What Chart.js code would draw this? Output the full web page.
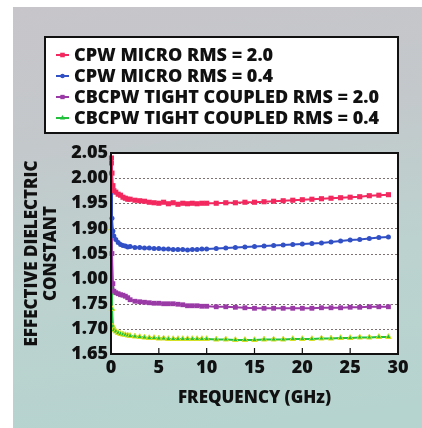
<!DOCTYPE html>
<html>
<head>
<meta charset="utf-8">
<script src="https://cdn.jsdelivr.net/npm/chart.js@4"></script>
<style>
  html, body { margin: 0; padding: 0; background: #fff; }
  #bg {
    position: absolute; left: 13px; top: 7px; width: 409px; height: 421px;
    background: linear-gradient(172deg, #c7c5ca 0%, #c3c8cb 30%, #bcd2cf 60%, #b5d4cf 100%);
  }
  #wrap { position: absolute; left: 0; top: 0; width: 422px; height: 428px; }
</style>
</head>
<body>
<div id="bg"></div>
<div id="wrap"><canvas id="chart" width="422" height="428"></canvas></div>
<script>
// frequency (GHz)
const freq = [0.05, 0.1, 0.2, 0.3, 0.5, 0.75, 1, 1.25, 1.5, 1.75, 2, 2.5, 3, 3.5, 4, 4.5, 5, 5.5, 6, 6.5, 7, 7.5, 8, 8.5, 9, 9.5, 10,
  11, 12, 13, 14, 15, 16, 17, 18, 19, 20, 21, 22, 23, 24, 25, 26, 27, 28, 29];

const cpwMicro20 = [2.04, 2.01, 1.985, 1.975, 1.972, 1.968, 1.966, 1.962, 1.960, 1.958, 1.958, 1.956, 1.955, 1.954, 1.952, 1.951, 1.950, 1.952, 1.949, 1.951, 1.948, 1.950, 1.949, 1.950, 1.949, 1.950, 1.950,
  1.950, 1.951, 1.951, 1.952, 1.952, 1.953, 1.954, 1.955, 1.956, 1.957, 1.958, 1.959, 1.960, 1.961, 1.962, 1.963, 1.965, 1.966, 1.967];

const cpwMicro04 = [2.01, 1.92, 1.895, 1.885, 1.878, 1.872, 1.868, 1.866, 1.865, 1.863, 1.864, 1.862, 1.862, 1.861, 1.861, 1.860, 1.860, 1.859, 1.859, 1.858, 1.858, 1.858, 1.857, 1.858, 1.858, 1.859, 1.859,
  1.860, 1.861, 1.862, 1.863, 1.864, 1.865, 1.866, 1.867, 1.868, 1.869, 1.870, 1.871, 1.873, 1.875, 1.877, 1.878, 1.880, 1.882, 1.883];

const cbcpw20 = [2.03, 1.85, 1.79, 1.775, 1.772, 1.770, 1.768, 1.767, 1.765, 1.762, 1.758, 1.755, 1.754, 1.753, 1.752, 1.751, 1.751, 1.750, 1.750, 1.750, 1.749, 1.748, 1.746, 1.746, 1.746, 1.745, 1.745,
  1.744, 1.744, 1.743, 1.742, 1.741, 1.741, 1.741, 1.741, 1.741, 1.741, 1.741, 1.742, 1.742, 1.742, 1.743, 1.743, 1.744, 1.744, 1.744];

const cbcpw04 = [1.90, 1.74, 1.705, 1.698, 1.695, 1.692, 1.690, 1.689, 1.688, 1.687, 1.686, 1.685, 1.684, 1.683, 1.682, 1.682, 1.681, 1.681, 1.680, 1.680, 1.680, 1.680, 1.680, 1.680, 1.680, 1.680, 1.680,
  1.679, 1.679, 1.678, 1.678, 1.678, 1.679, 1.679, 1.679, 1.680, 1.680, 1.680, 1.681, 1.681, 1.682, 1.682, 1.683, 1.683, 1.684, 1.684];

const seriesNames = ["CPW MICRO RMS = 2.0", "CPW MICRO RMS = 0.4", "CBCPW TIGHT COUPLED RMS = 2.0", "CBCPW TIGHT COUPLED RMS = 0.4"];

// tick labels as printed (including the typos)
const yTickLabels = ["1.65", "1.70", "1.75", "1.00", "1.05", "1.90", "1.95", "2.00", "2.05"];
const xTickLabels = ["0", "5", "10", "15", "20", "25", "30"];

const FONT = "'Open Sans'";
const colors = ["#f2285e", "#3250c6", "#9a3aa6", "#22c03c"];
const pStyles = ["rect", "circle", "rect", "triangle"];
const pRadius = [3.6, 2.5, 3.4, 3.2];

function toXY(vals) {
  return vals.map((v, i) => ({ x: freq[i], y: v }));
}

const seriesVals = [cpwMicro20, cpwMicro04, cbcpw20, cbcpw04];

const datasets = seriesVals.map((vals, i) => ({
  label: seriesNames[i],
  data: toXY(vals),
  borderColor: colors[i],
  backgroundColor: colors[i],
  pointBackgroundColor: colors[i],
  pointBorderColor: i === 3 ? "#d8e024" : colors[i],
  pointBorderWidth: i === 3 ? 1 : 0,
  borderWidth: 2,
  pointStyle: pStyles[i],
  pointRadius: pRadius[i],
  tension: 0,
  clip: false
}));

const plotDecor = {
  id: "plotDecor",
  beforeDatasetsDraw(chart) {
    const { ctx, chartArea: a, scales } = chart;
    ctx.save();
    ctx.fillStyle = "#fff";
    ctx.fillRect(a.left, a.top, a.right - a.left, a.bottom - a.top);
    // dashed horizontal grid
    ctx.strokeStyle = "#7d7070";
    ctx.lineWidth = 1;
    ctx.setLineDash([2, 2]);
    scales.y.ticks.forEach(t => {
      const py = Math.round(scales.y.getPixelForValue(t.value)) + 0.5;
      ctx.beginPath();
      ctx.moveTo(a.left, py);
      ctx.lineTo(a.right, py);
      ctx.stroke();
    });
    ctx.restore();
  },
  afterDatasetsDraw(chart) {
    const { ctx, chartArea: a, scales } = chart;
    ctx.save();
    // inner x ticks
    ctx.strokeStyle = "#111";
    ctx.lineWidth = 1.2;
    [5, 10, 15, 20, 25].forEach(v => {
      const px = scales.x.getPixelForValue(v);
      ctx.beginPath();
      ctx.moveTo(px, a.bottom);
      ctx.lineTo(px, a.bottom - 6);
      ctx.stroke();
    });
    // frame
    ctx.lineWidth = 2;
    ctx.strokeRect(a.left, a.top, a.right - a.left, a.bottom - a.top);

    // legend box
    const bx = 45, by = 37, bw = 353, bh = 96;
    ctx.fillStyle = "#fff";
    ctx.fillRect(bx, by, bw, bh);
    ctx.strokeStyle = "#111";
    ctx.lineWidth = 2;
    ctx.strokeRect(bx, by, bw, bh);
    const rows = [55, 76, 97, 118];
    ctx.font = "800 18px " + FONT;
    ctx.textBaseline = "middle";
    chart.data.datasets.forEach((ds, i) => {
      const y = rows[i];
      ctx.strokeStyle = ds.borderColor;
      ctx.lineWidth = 2;
      ctx.beginPath();
      ctx.moveTo(56, y);
      ctx.lineTo(69, y);
      ctx.stroke();
      ctx.fillStyle = ds.borderColor;
      Chart.helpers.drawPoint(ctx, { pointStyle: ds.pointStyle, radius: ds.pointRadius * 0.9, rotation: 0, borderWidth: 0 }, 62.5, y);
      ctx.fillStyle = "#111";
      ctx.fillText(ds.label, 74, y + 1);
    });
    ctx.restore();
  }
};

new Chart(document.getElementById("chart"), {
  type: "line",
  data: { datasets: datasets },
  options: {
    responsive: false,
    animation: false,
    layout: { padding: { left: 0, top: 153, right: 24, bottom: 0 } },
    plugins: {
      legend: { display: false },
      tooltip: { enabled: false }
    },
    scales: {
      x: {
        type: "linear",
        min: 0,
        max: 30,
        afterFit: s => { s.height = 74; },
        afterBuildTicks: s => { s.ticks = xTickLabels.map(t => ({ value: Number(t) })); },
        grid: { display: false, drawTicks: false },
        border: { display: false },
        ticks: {
          padding: 3,
          color: "#111",
          font: { family: FONT, weight: "800", size: 18 },
          callback: (v, i) => xTickLabels[i]
        },
        title: {
          display: true,
          text: "FREQUENCY (GHz)",
          color: "#111",
          font: { family: FONT, weight: "800", size: 17 },
          padding: { top: 4, bottom: 20 }
        }
      },
      y: {
        min: 1.65,
        max: 2.05,
        afterFit: s => { s.width = 111; },
        afterBuildTicks: s => { s.ticks = yTickLabels.map((t, i) => ({ value: 1.65 + i * 0.05 })); },
        grid: { display: false, drawTicks: false },
        border: { display: false },
        ticks: {
          padding: 3,
          color: "#111",
          font: { family: FONT, weight: "800", size: 18 },
          callback: (v, i) => yTickLabels[i]
        },
        title: {
          display: true,
          text: ["EFFECTIVE DIELECTRIC", "CONSTANT"],
          color: "#111",
          font: { family: FONT, weight: "800", size: 17, lineHeight: 1.15 },
          padding: { top: 22, bottom: 0 }
        }
      }
    }
  },
  plugins: [plotDecor]
});
</script>
</body>
</html>
